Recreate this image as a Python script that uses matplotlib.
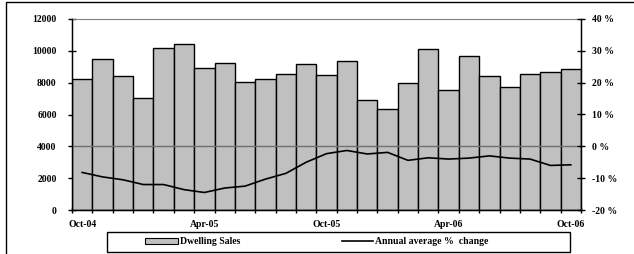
import numpy as np
import matplotlib
matplotlib.use('Agg')
import matplotlib.pyplot as plt
from matplotlib.patches import Rectangle, Patch
from matplotlib.lines import Line2D

# --- Dados (Oct-04 a Oct-06) ---
meses = ['Oct-04', 'Nov-04', 'Dec-04', 'Jan-05', 'Feb-05', 'Mar-05', 'Apr-05',
         'May-05', 'Jun-05', 'Jul-05', 'Aug-05', 'Sep-05', 'Oct-05', 'Nov-05',
         'Dec-05', 'Jan-06', 'Feb-06', 'Mar-06', 'Apr-06', 'May-06', 'Jun-06',
         'Jul-06', 'Aug-06', 'Sep-06', 'Oct-06']
vendas = [8200, 9500, 8400, 7050, 10200, 10400, 8900, 9250, 8050, 8200,
          8550, 9200, 8500, 9350, 6900, 6350, 7950, 10100, 7550, 9650,
          8450, 7750, 8550, 8700, 8850]
variacao = [-8.2, -9.6, -10.5, -12.0, -12.0, -13.6, -14.5, -13.1, -12.5, -10.3,
            -8.5, -5.0, -2.3, -1.3, -2.4, -1.9, -4.4, -3.6, -4.0, -3.7,
            -3.0, -3.7, -4.0, -6.0, -5.8]
rotulos_x = ['Oct-04', 'Apr-05', 'Oct-05', 'Apr-06', 'Oct-06']
ticks_esq = [0, 2000, 4000, 6000, 8000, 10000, 12000]
ticks_dir = [-20, -10, 0, 10, 20, 30, 40]

plt.rcParams['font.family'] = ['Liberation Serif', 'DejaVu Serif']
plt.rcParams['font.weight'] = 'bold'
TAM = 7

W, H = 634, 254
fig = plt.figure(figsize=(W / 100, H / 100), dpi=100)
ax = fig.add_axes([72 / W, 1 - 210 / H, (581 - 72) / W, (210 - 19) / H])

x = np.arange(len(vendas))
ax.bar(x, vendas, width=1.0, color='#c0c0c0', edgecolor='black', linewidth=1.0, zorder=2)
ax.set_xlim(-0.5, len(vendas) - 0.5)
ax.set_ylim(0, 12000)
ax.set_yticks(ticks_esq)
ax.set_yticklabels([str(v) for v in ticks_esq], fontsize=TAM, fontweight='bold')
ax.tick_params(axis='y', direction='inout', length=6, width=1, pad=8)

# Ticks do eixo x nas fronteiras das barras, rótulos no centro
ax.set_xticks(np.arange(len(vendas) + 1) - 0.5)
ax.set_xticklabels([])
ax.tick_params(axis='x', which='major', direction='inout', length=5, width=1)
pos_rotulos = [meses.index(m) for m in rotulos_x]
ax.set_xticks(pos_rotulos, minor=True)
ax.set_xticklabels(rotulos_x, minor=True, fontsize=TAM, fontweight='bold')
ax.tick_params(axis='x', which='minor', length=0, pad=7)

ax.spines['top'].set_color('#808080')
for lado in ['left', 'bottom', 'right']:
    ax.spines[lado].set_linewidth(1.0)

# Eixo secundário (%)
ax2 = ax.twinx()
ax2.axhline(0, color='#707070', linewidth=1.0, zorder=1)
ax2.plot(x, variacao, color='black', linewidth=1.2, zorder=3)
ax2.set_ylim(-20, 40)
ax2.set_yticks(ticks_dir)
ax2.set_yticklabels([f'{v} %' for v in ticks_dir], fontsize=TAM, fontweight='bold')
ax2.tick_params(axis='y', direction='inout', length=6, width=1, pad=5)
ax2.spines['top'].set_visible(False)

# Legenda: duas entradas posicionadas como no original, dentro de uma caixa
fig.legend([Patch(facecolor='#c0c0c0', edgecolor='black', linewidth=0.8)],
           ['Dwelling Sales'], loc='center left',
           bbox_to_anchor=(145 / W, 1 - 242 / H), borderpad=0, borderaxespad=0,
           frameon=False, fontsize=TAM, handlelength=3.4, handleheight=0.5,
           handletextpad=0.15)
fig.legend([Line2D([], [], color='black', linewidth=1.2)],
           ['Annual average %  change'], loc='center left',
           bbox_to_anchor=(342 / W, 1 - 242 / H), borderpad=0, borderaxespad=0,
           frameon=False, fontsize=TAM, handlelength=3.2, handletextpad=0.15)
fig.patches.append(Rectangle((107 / W, 1 - 252 / H), (570 - 107) / W, 20 / H,
                             transform=fig.transFigure, fill=False,
                             edgecolor='black', linewidth=1.0))

# Moldura externa
fig.patches.append(Rectangle((6 / W, -0.5), 1.2, 1.5 - 2 / H,
                             transform=fig.transFigure, fill=False,
                             edgecolor='black', linewidth=1.0))

fig.savefig('out.png', dpi=100)
